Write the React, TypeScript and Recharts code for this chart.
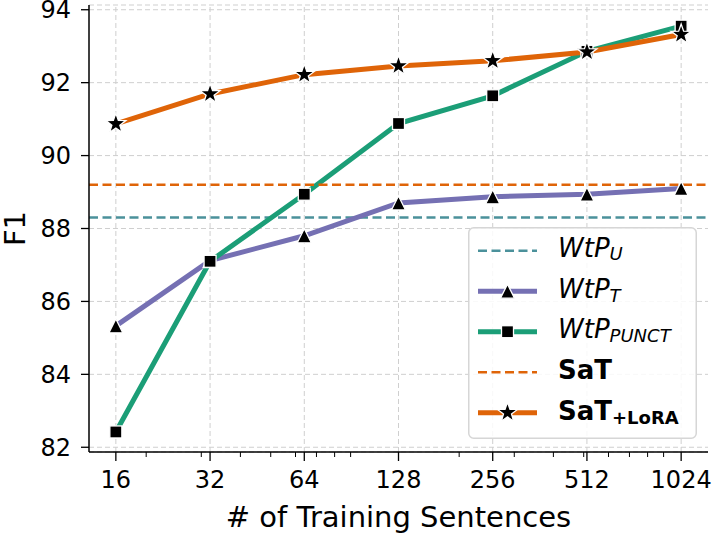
import { CartesianGrid, Legend, Line, LineChart, ReferenceLine, XAxis, YAxis } from "recharts";

// training set sizes and F1 scores
const sizes = [16, 32, 64, 128, 256, 512, 1024];
const wtpT = [85.33, 87.12, 87.8, 88.7, 88.87, 88.94, 89.1];
const wtpPunct = [82.42, 87.1, 88.94, 90.88, 91.64, 92.86, 93.55];
const satLora = [90.87, 91.69, 92.22, 92.46, 92.6, 92.84, 93.32];
const wtpU = 88.3;
const sat = 89.2;

const yTicks = [82, 84, 86, 88, 90, 92, 94];
const minorTicks = [20, 30, 40, 50, 60, 70, 80, 90, 200, 300, 400, 500, 600, 700, 800, 900];

const C = { teal: "#4b919b", purple: "#7570b3", green: "#1b9e77", orange: "#df6408" };
const FONT = "'DejaVu Sans', sans-serif";

const data = sizes.map((n, i) => ({ n, wtpT: wtpT[i], wtpPunct: wtpPunct[i], satLora: satLora[i] }));
const xDomain = [16 * Math.pow(2, -0.285), 1024 * Math.pow(2, 0.285)];
const yDomain = [81.87, 94.13];

function Tri({ cx, cy, s = 7 }: { cx: number; cy: number; s?: number }) {
  return <polygon points={`${cx},${cy - s} ${cx - s},${cy + s} ${cx + s},${cy + s}`} fill="#000" stroke="#fff" strokeWidth={1.3} />;
}
function Sq({ cx, cy, s = 6 }: { cx: number; cy: number; s?: number }) {
  return <rect x={cx - s} y={cy - s} width={2 * s} height={2 * s} fill="#000" stroke="#fff" strokeWidth={1.3} />;
}
function Star({ cx, cy, r = 10.5 }: { cx: number; cy: number; r?: number }) {
  const pts: string[] = [];
  for (let k = 0; k < 10; k++) {
    const rad = k % 2 === 0 ? r : r * 0.4;
    const a = -Math.PI / 2 + (k * Math.PI) / 5;
    pts.push(`${cx + rad * Math.cos(a)},${cy + rad * Math.sin(a)}`);
  }
  return <polygon points={pts.join(" ")} fill="#000" stroke="#fff" strokeWidth={1.3} />;
}

function XTick(props: any) {
  const { x, y, payload } = props;
  const major = sizes.includes(payload.value);
  return (
    <g>
      <line x1={x} x2={x} y1={y} y2={y + (major ? 9 : 5)} stroke="#000" strokeWidth={major ? 1.3 : 1} />
      {major && <text x={x} y={y + 36} textAnchor="middle" fontSize={24} fontFamily={FONT} fill="#000">{payload.value}</text>}
    </g>
  );
}

function LegendBox() {
  const rows = [0, 1, 2, 3, 4].map((i) => 23.7 + i * 40.5);
  const hx1 = 10, hx2 = 69, mid = 39.5, tx = 90;
  const txt = { fontSize: 26, fontFamily: FONT, fill: "#000" };
  return (
    <svg width={229} height={212} style={{ display: "block" }}>
      <rect x={0.75} y={0.75} width={227.5} height={210.5} rx={5} fill="rgba(255,255,255,0.85)" stroke="#d6d6d6" strokeWidth={1.5} />
      <line x1={hx1} x2={hx2} y1={rows[0]} y2={rows[0]} stroke={C.teal} strokeWidth={2.5} strokeDasharray="9 4.5" />
      <text x={tx} y={rows[0] + 6.5} {...txt} fontStyle="italic">WtP<tspan fontSize={18} dy={3}>U</tspan></text>
      <line x1={hx1} x2={hx2} y1={rows[1]} y2={rows[1]} stroke={C.purple} strokeWidth={5} />
      <Tri cx={mid} cy={rows[1]} />
      <text x={tx} y={rows[1] + 6.5} {...txt} fontStyle="italic">WtP<tspan fontSize={18} dy={4}>T</tspan></text>
      <line x1={hx1} x2={hx2} y1={rows[2]} y2={rows[2]} stroke={C.green} strokeWidth={5} />
      <Sq cx={mid} cy={rows[2]} />
      <text x={tx} y={rows[2] + 6.5} {...txt} fontStyle="italic">WtP<tspan fontSize={18} dy={4}>PUNCT</tspan></text>
      <line x1={hx1} x2={hx2} y1={rows[3]} y2={rows[3]} stroke={C.orange} strokeWidth={2.5} strokeDasharray="9 4.5" />
      <text x={tx} y={rows[3] + 7} {...txt} fontWeight="bold">SaT</text>
      <line x1={hx1} x2={hx2} y1={rows[4]} y2={rows[4]} stroke={C.orange} strokeWidth={5} />
      <Star cx={mid} cy={rows[4]} />
      <text x={tx} y={rows[4] + 7} {...txt} fontWeight="bold">SaT<tspan fontSize={18} dy={4}>+LoRA</tspan></text>
    </svg>
  );
}

export default function App() {
  const axisLine = { stroke: "#000", strokeWidth: 1.5 };
  const tickStyle = { fontSize: 24, fontFamily: FONT, fill: "#000" };
  return (
    <div style={{ position: "absolute", left: 0, top: 0, width: 714, height: 536, background: "#fff" }}>
      <LineChart width={714} height={536} data={data} margin={{ top: 5, right: 6, bottom: 0, left: 0 }}>
        <CartesianGrid vertical={false} stroke="#cfcfcf" strokeDasharray="5 3" />
        {sizes.map((n) => (
          <ReferenceLine key={n} x={n} stroke="#cfcfcf" strokeDasharray="5 3" />
        ))}
        <XAxis
          dataKey="n"
          type="number"
          scale="log"
          domain={xDomain}
          allowDataOverflow
          ticks={[...sizes, ...minorTicks]}
          interval={0}
          tickSize={0}
          tickMargin={0}
          tickLine={false}
          axisLine={axisLine}
          height={84}
          tick={XTick}
          label={() => (
            <text x={398.5} y={527} textAnchor="middle" fontSize={29} fontFamily={FONT} fill="#000">
              # of Training Sentences
            </text>
          )}
        />
        <XAxis xAxisId="top" orientation="top" type="number" scale="log" domain={xDomain} allowDataOverflow height={0} tick={false} tickLine={false} axisLine={axisLine} />
        <YAxis
          type="number"
          domain={yDomain}
          allowDataOverflow
          ticks={yTicks}
          interval={0}
          width={89}
          tickSize={8}
          tickMargin={10}
          tickLine={{ stroke: "#000", strokeWidth: 1.3 }}
          axisLine={axisLine}
          tick={tickStyle}
          label={() => (
            <text transform="translate(25,228.5) rotate(-90)" textAnchor="middle" fontSize={29} fontFamily={FONT} fill="#000">
              F1
            </text>
          )}
        />
        <YAxis yAxisId="right" orientation="right" type="number" domain={yDomain} allowDataOverflow width={0} tick={false} tickLine={false} axisLine={axisLine} />
        <ReferenceLine y={wtpU} stroke={C.teal} strokeWidth={2.5} strokeDasharray="9 4.5" />
        <Line type="linear" dataKey="wtpT" stroke={C.purple} strokeWidth={5} isAnimationActive={false}
          dot={(p: any) => <Tri key={`t${p.index}`} cx={p.cx} cy={p.cy} />} activeDot={false} />
        <Line type="linear" dataKey="wtpPunct" stroke={C.green} strokeWidth={5} isAnimationActive={false}
          dot={(p: any) => <Sq key={`s${p.index}`} cx={p.cx} cy={p.cy} />} activeDot={false} />
        <ReferenceLine y={sat} stroke={C.orange} strokeWidth={2.5} strokeDasharray="9 4.5" />
        <Line type="linear" dataKey="satLora" stroke={C.orange} strokeWidth={5} isAnimationActive={false}
          dot={(p: any) => <Star key={`r${p.index}`} cx={p.cx} cy={p.cy} />} activeDot={false} />
        <Legend
          layout="vertical"
          align="center"
          verticalAlign="middle"
          wrapperStyle={{ left: 468, top: 227, width: 229, height: 212 }}
          content={() => <LegendBox />}
        />
      </LineChart>
    </div>
  );
}
